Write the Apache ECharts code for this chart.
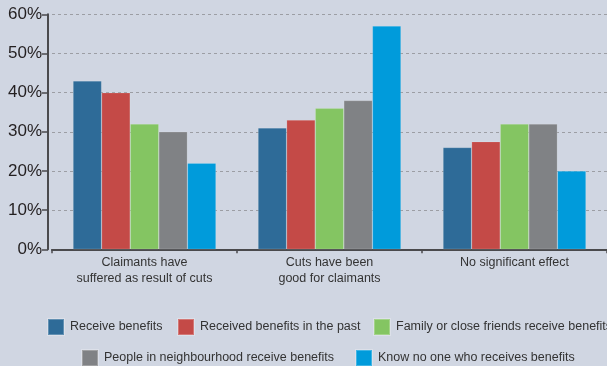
<!DOCTYPE html>
<html>
<head>
<meta charset="utf-8">
<script src="https://cdn.jsdelivr.net/npm/echarts@6/dist/echarts.min.js"></script>
<style>
  html, body { margin: 0; padding: 0; background: #d0d6e2; }
  #chart { width: 607px; height: 366px; }
</style>
</head>
<body>
<div id="chart"></div>
<script>
// Opinion on benefit cuts, by respondents' contact with the benefit system (%)
const categories = [
  'Claimants have\nsuffered as result of cuts',
  'Cuts have been\ngood for claimants',
  'No significant effect'
];
const seriesNames = [
  'Receive benefits',
  'Received benefits in the past',
  'Family or close friends receive benefits',
  'People in neighbourhood receive benefits',
  'Know no one who receives benefits'
];
const receiveBenefits   = [43, 31, 26];
const receivedInPast    = [40, 33, 27.5];
const familyOrFriends   = [32, 36, 32];
const neighbourhood     = [30, 38, 32];
const knowNoOne         = [22, 57, 20];
const yTicks = { min: 0, max: 60, interval: 10 };

const colors = ['#2e6b98', '#c44a47', '#84c562', '#808285', '#009bdb'];
const values = [receiveBenefits, receivedInPast, familyOrFriends, neighbourhood, knowNoOne];

// legend placement: two rows, one legend per entry
const legendSpots = [
  { left: 47, top: 318 },
  { left: 177, top: 318 },
  { left: 373, top: 318 },
  { left: 81, top: 349 },
  { left: 355, top: 349 }
];

const font = '"Liberation Sans", Arial, sans-serif';

const chart = echarts.init(document.getElementById('chart'), null, { renderer: 'canvas' });
chart.setOption({
  backgroundColor: '#d0d6e2',
  animation: false,
  textStyle: { fontFamily: font },
  grid: { left: 52, top: 14.3, width: 557, bottom: 116.7, containLabel: false },
  legend: seriesNames.map((name, i) => ({
    data: [name],
    left: legendSpots[i].left,
    top: legendSpots[i].top,
    padding: 0,
    icon: 'rect',
    itemWidth: 16,
    itemHeight: 16,
    selectedMode: false,
    textStyle: { fontSize: 12.5, color: '#333333', fontFamily: font, padding: [0, 0, 0, 1] }
  })),
  xAxis: {
    type: 'category',
    data: categories,
    axisLine: { lineStyle: { color: '#4a4a4d', width: 2 } },
    axisTick: { show: true, length: 4, lineStyle: { color: '#4a4a4d', width: 1.5 } },
    axisLabel: {
      fontSize: 12.5, color: '#333333', lineHeight: 16, margin: 5, fontFamily: font
    }
  },
  yAxis: {
    type: 'value',
    min: yTicks.min,
    max: yTicks.max,
    interval: yTicks.interval,
    offset: 4,
    axisLine: { show: true, lineStyle: { color: '#4a4a4d', width: 2 } },
    axisTick: { show: true, length: 6, lineStyle: { color: '#4a4a4d', width: 1.5 } },
    axisLabel: {
      formatter: '{value}%', fontSize: 17, color: '#231f20', margin: 6, fontFamily: font
    },
    splitLine: { show: true, lineStyle: { color: '#9c9ea4', type: [3, 3], width: 1 } }
  },
  series: seriesNames.map((name, i) => ({
    name: name,
    type: 'bar',
    data: values[i],
    barGap: '0%',
    barCategoryGap: '22.7%',
    itemStyle: { color: colors[i], borderColor: 'rgba(255,255,255,0.25)', borderWidth: 0.6 }
  }))
});
</script>
</body>
</html>
